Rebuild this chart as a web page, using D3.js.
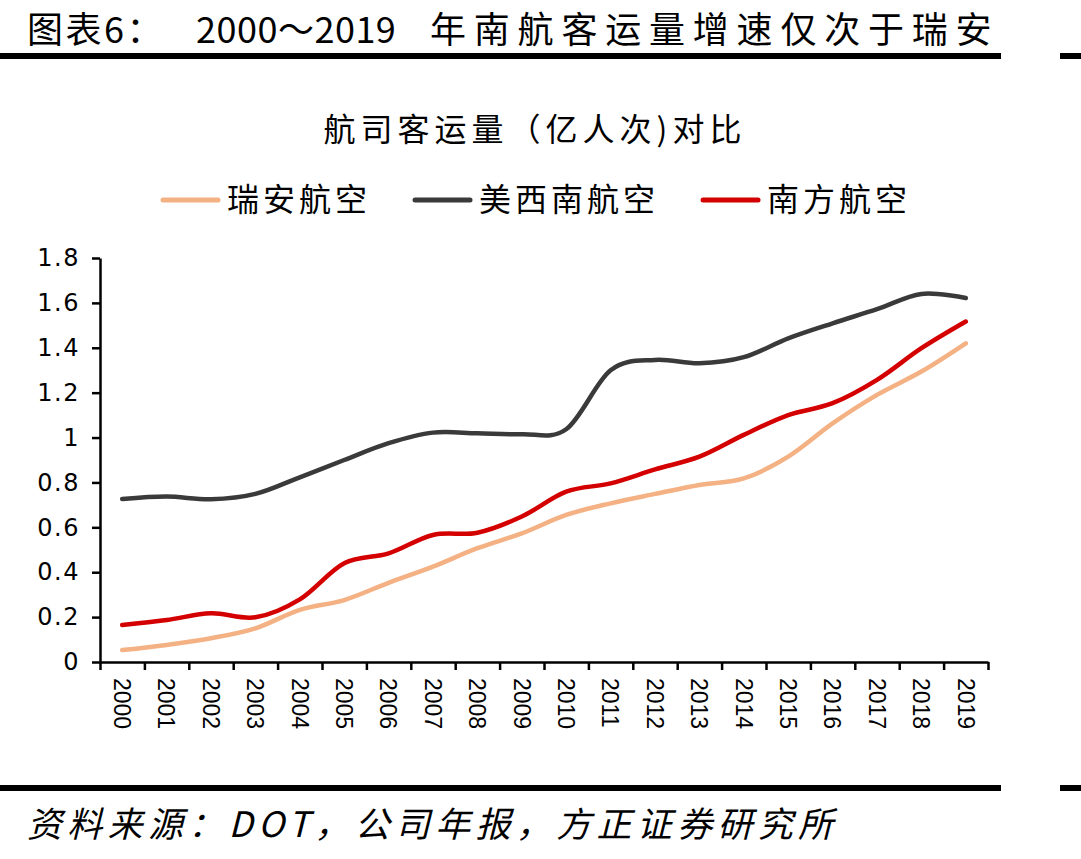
<!DOCTYPE html>
<html>
<head>
<meta charset="utf-8">
<script src="https://cdn.jsdelivr.net/npm/d3@7"></script>
<style>
    body { margin: 0; background: #fff; }
    svg { display: block; }
</style>
</head>
<body>
<div id="chart"></div>
<script>
// data (亿人次)
const years = ["2000","2001","2002","2003","2004","2005","2006","2007","2008","2009",
               "2010","2011","2012","2013","2014","2015","2016","2017","2018","2019"];
const ryanair = [0.053,0.076,0.106,0.150,0.232,0.276,0.353,0.425,0.507,0.573,
                 0.655,0.707,0.749,0.789,0.818,0.915,1.063,1.190,1.294,1.420];
const southwest = [0.726,0.737,0.725,0.749,0.823,0.900,0.975,1.022,1.019,1.015,
                   1.037,1.300,1.346,1.331,1.358,1.442,1.509,1.572,1.640,1.622];
const chinaSouthern = [0.165,0.187,0.217,0.199,0.279,0.440,0.484,0.566,0.576,0.648,
                       0.759,0.796,0.858,0.915,1.012,1.100,1.153,1.257,1.398,1.517];
const seriesNames = ["瑞安航空", "美西南航空", "南方航空"];
const seriesColors = ["#F4B183", "#3A3A3A", "#D40000"];
const yTicks = [0, 0.2, 0.4, 0.6, 0.8, 1, 1.2, 1.4, 1.6, 1.8];
const yTickLabels = ["0","0.2","0.4","0.6","0.8","1","1.2","1.4","1.6","1.8"];

const W = 1081, H = 859;
const cjk = "'Noto Sans CJK SC', 'Noto Sans', sans-serif";

let svg = d3.select("#chart").append("svg")
    .attr("width", W)
    .attr("height", H);

// header
svg.append("text")
    .attr("x", 27).attr("y", 43)
    .attr("font-family", cjk).attr("font-size", 36)
    .attr("letter-spacing", 2.5)
    .text("图表6：");
svg.append("text")
    .attr("x", 196).attr("y", 43)
    .attr("font-family", cjk).attr("font-size", 36)
    .attr("letter-spacing", 0.5)
    .text("2000～2019");
svg.append("text")
    .attr("x", 430).attr("y", 43)
    .attr("font-family", cjk).attr("font-size", 36)
    .attr("letter-spacing", 7.8)
    .text("年南航客运量增速仅次于瑞安");

// thick rules
[56, 788].forEach(ry => {
    svg.append("line").attr("x1", 0).attr("x2", 1001).attr("y1", ry).attr("y2", ry)
        .attr("stroke", "#000").attr("stroke-width", 6);
    svg.append("line").attr("x1", 1060).attr("x2", W).attr("y1", ry).attr("y2", ry)
        .attr("stroke", "#000").attr("stroke-width", 6);
});

// footer
svg.append("text")
    .attr("x", 27).attr("y", 837)
    .attr("font-family", cjk).attr("font-size", 35)
    .attr("font-style", "italic")
    .attr("letter-spacing", 5.3)
    .text("资料来源：DOT，公司年报，方正证券研究所");

// chart title
svg.append("text")
    .attr("x", 535).attr("y", 141)
    .attr("text-anchor", "middle")
    .attr("font-family", cjk).attr("font-size", 32)
    .attr("letter-spacing", 5)
    .text("航司客运量（亿人次)对比");

// plot area
let margin = {left: 100, right: 93, top: 258, bottom: 197};
let width = W - margin.left - margin.right,
    height = H - margin.top - margin.bottom;

let g = svg.append("g")
    .attr("transform", "translate(" + margin.left + "," + margin.top + ")");

let x = d3.scaleBand().domain(years).range([0, width]);
let xEdge = d3.scaleLinear().domain([0, years.length]).range([0, width]);
let y = d3.scaleLinear().domain([0, 1.8]).range([height, 0]);

// y axis
let yAxis = g.append("g")
    .call(d3.axisLeft(y)
        .tickValues(yTicks)
        .tickSize(8)
        .tickSizeOuter(0)
        .tickPadding(12)
        .tickFormat((d, i) => yTickLabels[i]));
yAxis.selectAll("path, line").attr("stroke", "#000").attr("stroke-width", 2.5);
yAxis.selectAll("text")
    .attr("font-family", "'DejaVu Sans', sans-serif")
    .attr("font-size", 24)
    .attr("letter-spacing", 1.5)
    .attr("fill", "#000");

// x axis (ticks at band edges)
let xAxis = g.append("g")
    .attr("transform", "translate(0," + height + ")")
    .call(d3.axisBottom(xEdge)
        .tickValues(d3.range(years.length + 1))
        .tickSize(8)
        .tickSizeOuter(0)
        .tickFormat(""));
xAxis.selectAll("path, line").attr("stroke", "#000").attr("stroke-width", 2.5);

g.selectAll(".x-label")
    .data(years)
    .enter()
    .append("text")
    .attr("class", "x-label")
    .attr("transform", d => "translate(" + (x(d) + x.bandwidth() / 2) + "," + (height + 16) + ") rotate(90)")
    .attr("dy", "0.36em")
    .attr("font-family", "'Liberation Sans', Arial, sans-serif")
    .attr("font-size", 23)
    .attr("fill", "#000")
    .text(d => d);

// lines
let seriesData = [ryanair, southwest, chinaSouthern];
let line = d3.line()
    .x((d, i) => x(years[i]) + x.bandwidth() / 2)
    .y(d => y(d))
    .curve(d3.curveCardinal.tension(0));

g.selectAll(".series")
    .data(seriesData)
    .enter()
    .append("path")
    .attr("class", "series")
    .attr("d", d => line(d))
    .attr("fill", "none")
    .attr("stroke", (d, i) => seriesColors[i])
    .attr("stroke-width", 4.5)
    .attr("stroke-linecap", "round")
    .attr("stroke-linejoin", "round");

// legend
let lx = 163;
seriesNames.forEach((name, i) => {
    svg.append("line")
        .attr("x1", lx).attr("x2", lx + 55)
        .attr("y1", 200).attr("y2", 200)
        .attr("stroke", seriesColors[i])
        .attr("stroke-width", 5)
        .attr("stroke-linecap", "round");
    let t = svg.append("text")
        .attr("x", lx + 64).attr("y", 211)
        .attr("font-family", cjk).attr("font-size", 32)
        .attr("letter-spacing", 4)
        .text(name);
    lx += 64 + t.node().getComputedTextLength() + 44;
});
</script>
</body>
</html>
